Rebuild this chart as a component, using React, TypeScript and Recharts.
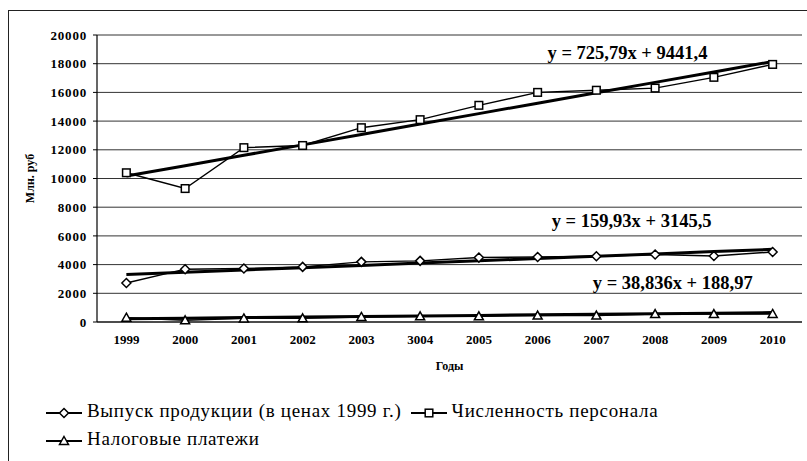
import {
  LineChart,
  Line,
  XAxis,
  YAxis,
  CartesianGrid,
  ReferenceDot,
  Label,
} from 'recharts';

const years = ['1999', '2000', '2001', '2002', '2003', '3004', '2005', '2006', '2007', '2008', '2009', '2010'];
const output = [2720, 3680, 3730, 3840, 4190, 4260, 4490, 4530, 4580, 4700, 4600, 4880];
const staff = [10400, 9300, 12150, 12300, 13540, 14100, 15100, 16000, 16150, 16300, 17050, 17950];
const taxes = [300, 120, 250, 260, 350, 400, 400, 450, 450, 550, 550, 560];

// linear trends shown on the chart: y = a*x + b
const outputTrend = { a: 159.93, b: 3145.5 };
const staffTrend = { a: 725.79, b: 9441.4 };
const taxTrend = { a: 38.836, b: 188.97 };

const yTicks = [0, 2000, 4000, 6000, 8000, 10000, 12000, 14000, 16000, 18000, 20000];
const xTicks = years.map((_, i) => i + 1);
const boundaryTicks = [...years.map((_, i) => i + 0.5), years.length + 0.5];

const FONT = '"Times New Roman", "Liberation Serif", Tinos, "DejaVu Serif", serif';

const rows = years.map((y, i) => ({
  idx: i + 1,
  output: output[i],
  staff: staff[i],
  taxes: taxes[i],
  outputT: outputTrend.a * (i + 1) + outputTrend.b,
  staffT: staffTrend.a * (i + 1) + staffTrend.b,
  taxT: taxTrend.a * (i + 1) + taxTrend.b,
}));

type Shape = 'diamond' | 'square' | 'triangle';

function marker(shape: Shape, cx: number, cy: number, key?: string) {
  if (shape === 'diamond')
    return (
      <polygon key={key} points={`${cx},${cy - 4.5} ${cx + 4.5},${cy} ${cx},${cy + 4.5} ${cx - 4.5},${cy}`} fill="#fff" stroke="#000" strokeWidth={1.5} />
    );
  if (shape === 'square')
    return <rect key={key} x={cx - 3.8} y={cy - 3.8} width={7.6} height={7.6} fill="#fff" stroke="#000" strokeWidth={1.5} />;
  return (
    <polygon key={key} points={`${cx},${cy - 4.5} ${cx + 4.5},${cy + 3.5} ${cx - 4.5},${cy + 3.5}`} fill="#fff" stroke="#000" strokeWidth={1.5} />
  );
}

const dotFor = (shape: Shape) => (p: any) => marker(shape, p.cx, p.cy, `${shape}-${p.index}`);

function LegendIcon({ shape }: { shape: Shape }) {
  return (
    <svg width={38} height={12} style={{ verticalAlign: 'middle', marginRight: 4 }}>
      <line x1={1} y1={6} x2={37} y2={6} stroke="#000" strokeWidth={1.8} />
      {marker(shape, 19, 6)}
    </svg>
  );
}

const eqStyle = { fontSize: 18.5, fontWeight: 700, fill: '#000', fontFamily: FONT };

export default function App() {
  return (
    <div
      style={{
        position: 'absolute',
        left: 0,
        top: 0,
        width: 807,
        height: 461,
        background: '#fff',
        fontFamily: FONT,
      }}
    >
      <div
        style={{
          position: 'absolute',
          left: 8,
          top: 10,
          width: 799,
          height: 451,
          borderLeft: '1px solid #222',
          borderTop: '1px solid #222',
        }}
      />
      <LineChart
        width={807}
        height={380}
        data={rows}
        margin={{ top: 35, right: 5, left: 20, bottom: 8 }}
        style={{ position: 'absolute', left: 0, top: 0, fontFamily: FONT }}
      >
        <CartesianGrid vertical={false} stroke="#333" strokeWidth={1} />
        <XAxis
          xAxisId="b"
          dataKey="idx"
          type="number"
          domain={[0.5, 12.5]}
          ticks={boundaryTicks}
          tick={false}
          axisLine={false}
          tickLine={{ stroke: '#000' }}
          tickSize={4}
          height={0}
        />
        <XAxis
          dataKey="idx"
          type="number"
          domain={[0.5, 12.5]}
          ticks={xTicks}
          interval={0}
          tickFormatter={(v: number) => years[v - 1]}
          axisLine={{ stroke: '#000', strokeWidth: 1.2 }}
          tickLine={false}
          tickSize={0}
          tickMargin={13}
          height={50}
          tick={{ fontSize: 13, fontWeight: 700, fill: '#000', fontFamily: FONT }}
        >
          <Label value="Годы" position="insideBottom" offset={2} style={{ fontSize: 12, fontWeight: 700, fill: '#000', fontFamily: FONT }} />
        </XAxis>
        <YAxis
          domain={[0, 20000]}
          ticks={yTicks}
          interval={0}
          width={77}
          axisLine={{ stroke: '#000', strokeWidth: 1.2 }}
          tickLine={{ stroke: '#000' }}
          tickSize={4}
          tickMargin={6}
          tick={{ fontSize: 13, fontWeight: 700, fill: '#000', fontFamily: FONT, letterSpacing: 0.8 }}
        >
          <Label
            value="Млн. руб"
            angle={-90}
            position="insideLeft"
            offset={10}
            style={{ fontSize: 12, fontWeight: 700, fill: '#000', fontFamily: FONT, textAnchor: 'middle' }}
          />
        </YAxis>

        <Line type="linear" dataKey="staff" stroke="#000" strokeWidth={1.4} dot={dotFor('square')} isAnimationActive={false} />
        <Line type="linear" dataKey="output" stroke="#000" strokeWidth={1.4} dot={dotFor('diamond')} isAnimationActive={false} />
        <Line type="linear" dataKey="taxes" stroke="#000" strokeWidth={1.4} dot={dotFor('triangle')} isAnimationActive={false} />

        <Line type="linear" dataKey="staffT" stroke="#000" strokeWidth={3} dot={false} activeDot={false} isAnimationActive={false} />
        <Line type="linear" dataKey="outputT" stroke="#000" strokeWidth={3} dot={false} activeDot={false} isAnimationActive={false} />
        <Line type="linear" dataKey="taxT" stroke="#000" strokeWidth={3} dot={false} activeDot={false} isAnimationActive={false} />

        <ReferenceDot x={9.53} y={18820} r={0} fill="none" stroke="none" label={{ value: 'y = 725,79x + 9441,4', position: 'center', ...eqStyle }} />
        <ReferenceDot x={9.6} y={7100} r={0} fill="none" stroke="none" label={{ value: 'y = 159,93x + 3145,5', position: 'center', ...eqStyle }} />
        <ReferenceDot x={10.3} y={2770} r={0} fill="none" stroke="none" label={{ value: 'y = 38,836x + 188,97', position: 'center', ...eqStyle }} />
      </LineChart>

      <div style={{ position: 'absolute', left: 45, top: 397, fontSize: 19, lineHeight: '28px', letterSpacing: 0.7, color: '#000', whiteSpace: 'nowrap', fontFamily: FONT }}>
        <div>
          <LegendIcon shape="diamond" />
          <span>Выпуск продукции (в ценах 1999 г.)</span>
          <span style={{ marginLeft: 8 }}>
            <LegendIcon shape="square" />
            Численность персонала
          </span>
        </div>
        <div>
          <LegendIcon shape="triangle" />
          <span>Налоговые платежи</span>
        </div>
      </div>
    </div>
  );
}
